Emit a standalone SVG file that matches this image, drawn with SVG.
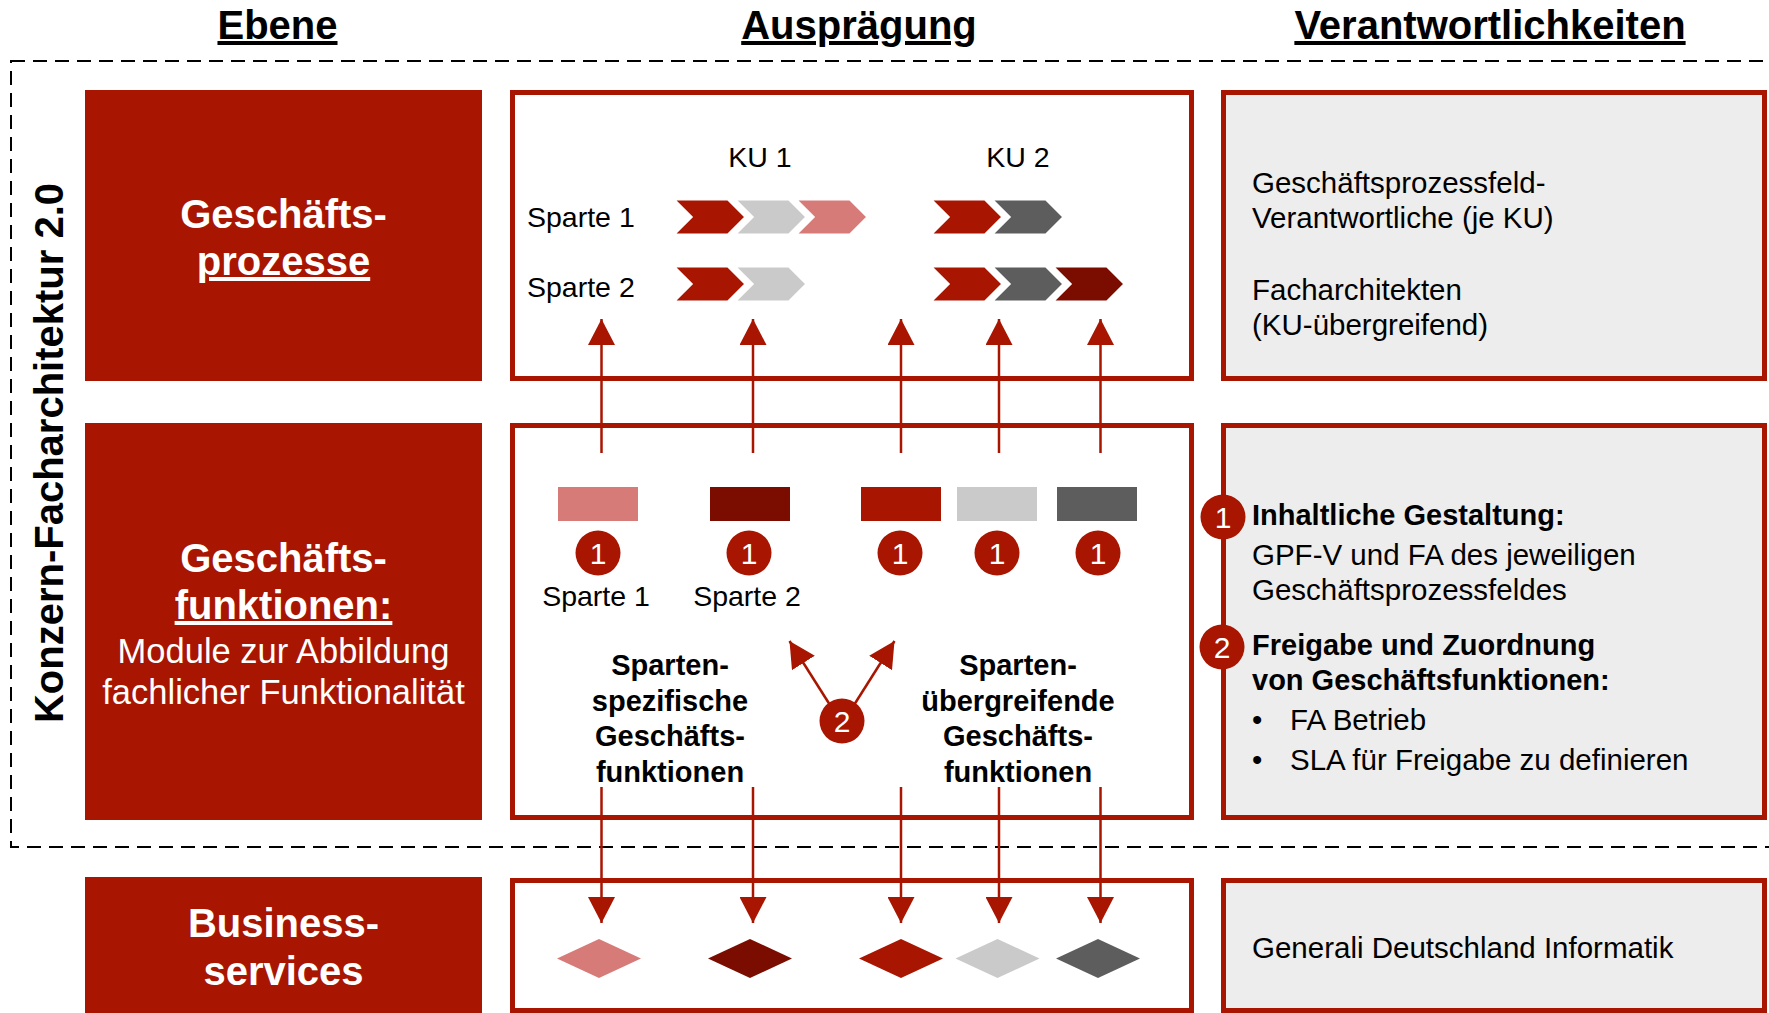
<svg xmlns="http://www.w3.org/2000/svg" width="1769" height="1013" viewBox="0 0 1769 1013">
<style>
text{font-family:"Liberation Sans",Arial,sans-serif}
.hdr{font-size:40px;font-weight:bold;fill:#000;text-anchor:middle;text-decoration:underline}
.lbox{fill:#A81500}
.mbox{fill:#fff;stroke:#A81500;stroke-width:5}
.rbox{fill:#EDEDED;stroke:#A81500;stroke-width:5}
.lt{font-size:40px;font-weight:bold;fill:#fff;text-anchor:middle}
.lts{font-size:34.5px;fill:#fff;text-anchor:middle}
.t{font-size:28.5px;fill:#000}
.tr{font-size:29.5px;fill:#000}
.tb{font-size:29px;font-weight:bold;fill:#000}
.c{text-anchor:middle}
.chev{stroke:#fff;stroke-width:3}
.red{fill:#A81500}.pink{fill:#D77B78}.dred{fill:#7A0D00}.lgr{fill:#CACACA}.dgr{fill:#5D5D5D}
.num{fill:#A81500}
.numt{font-size:30px;fill:#fff;text-anchor:middle}
.conn{stroke:#A81500;stroke-width:2.5;fill:none;marker-end:url(#ah)}
</style>
<defs>
<marker id="ah" viewBox="0 0 26 27" refX="26" refY="13.5" markerWidth="26" markerHeight="27" markerUnits="userSpaceOnUse" orient="auto">
<path d="M0,0 L26,13.5 L0,27 Z" fill="#A81500"/>
</marker>
</defs>

<g id="headers">
<text class="hdr" x="277.5" y="39">Ebene</text>
<text class="hdr" x="859" y="39">Ausprägung</text>
<text class="hdr" x="1490" y="39">Verantwortlichkeiten</text>
</g>

<g id="konzern-frame">
<rect x="11" y="61" width="1800" height="786" fill="none" stroke="#000" stroke-width="2" stroke-dasharray="14 8"/>
<text transform="translate(63,453) rotate(-90)" font-size="40" font-weight="bold" text-anchor="middle" fill="#000">Konzern-Facharchitektur 2.0</text>
</g>

<g id="ebene-geschaeftsprozesse">
<rect class="lbox" x="85" y="90" width="397" height="291"/>
<text class="lt" x="283.5" y="228">Geschäfts-</text>
<text class="lt" x="283.5" y="275" text-decoration="underline">prozesse</text>
</g>

<g id="ebene-geschaeftsfunktionen">
<rect class="lbox" x="85" y="423" width="397" height="397"/>
<text class="lt" x="283.5" y="572">Geschäfts-</text>
<text class="lt" x="283.5" y="619" text-decoration="underline">funktionen:</text>
<text class="lts" x="283.5" y="663">Module zur Abbildung</text>
<text class="lts" x="283.5" y="704">fachlicher Funktionalität</text>
</g>

<g id="ebene-businessservices">
<rect class="lbox" x="85" y="877" width="397" height="140"/>
<text class="lt" x="283.5" y="937">Business-</text>
<text class="lt" x="283.5" y="985">services</text>
</g>

<g id="auspraegung-prozesse">
<rect class="mbox" x="512.5" y="92.5" width="679" height="286"/>
<text class="t c" x="760" y="167">KU 1</text>
<text class="t c" x="1018" y="167">KU 2</text>
<text class="t" x="527" y="227">Sparte 1</text>
<text class="t" x="527" y="297">Sparte 2</text>
<polygon class="chev red" points="673,199 728,199 746,217 728,235 673,235 691,217"/>
<polygon class="chev lgr" points="734,199 789,199 807,217 789,235 734,235 752,217"/>
<polygon class="chev pink" points="795,199 850,199 868,217 850,235 795,235 813,217"/>
<polygon class="chev red" points="930,199 985,199 1003,217 985,235 930,235 948,217"/>
<polygon class="chev dgr" points="991,199 1046,199 1064,217 1046,235 991,235 1009,217"/>
<polygon class="chev red" points="673,266 728,266 746,284 728,302 673,302 691,284"/>
<polygon class="chev lgr" points="734,266 789,266 807,284 789,302 734,302 752,284"/>
<polygon class="chev red" points="930,266 985,266 1003,284 985,302 930,302 948,284"/>
<polygon class="chev dgr" points="991,266 1046,266 1064,284 1046,302 991,302 1009,284"/>
<polygon class="chev dred" points="1052,266 1107,266 1125,284 1107,302 1052,302 1070,284"/>
</g>

<g id="auspraegung-funktionen">
<rect class="mbox" x="512.5" y="425.5" width="679" height="392"/>
<rect class="pink" x="558" y="487" width="80" height="34"/>
<rect class="dred" x="710" y="487" width="80" height="34"/>
<rect class="red" x="861" y="487" width="80" height="34"/>
<rect class="lgr" x="957" y="487" width="80" height="34"/>
<rect class="dgr" x="1057" y="487" width="80" height="34"/>
<text class="t c" x="596" y="606">Sparte 1</text>
<text class="t c" x="747" y="606">Sparte 2</text>
<text class="tb c" x="670" y="675">Sparten-</text>
<text class="tb c" x="670" y="711">spezifische</text>
<text class="tb c" x="670" y="746">Geschäfts-</text>
<text class="tb c" x="670" y="782">funktionen</text>
<text class="tb c" x="1018" y="675">Sparten-</text>
<text class="tb c" x="1018" y="711">übergreifende</text>
<text class="tb c" x="1018" y="746">Geschäfts-</text>
<text class="tb c" x="1018" y="782">funktionen</text>
</g>

<g id="auspraegung-services">
<rect class="mbox" x="512.5" y="880.5" width="679" height="130"/>
<polygon class="pink" points="557,958.5 599,939 641,958.5 599,978"/>
<polygon class="dred" points="708,958.5 750,939 792,958.5 750,978"/>
<polygon class="red" points="859,958.5 901,939 943,958.5 901,978"/>
<polygon class="lgr" points="955.5,958.5 997.5,939 1039.5,958.5 997.5,978"/>
<polygon class="dgr" points="1056,958.5 1098,939 1140,958.5 1098,978"/>
</g>

<g id="verantwortung-prozesse">
<rect class="rbox" x="1223.5" y="92.5" width="541" height="286"/>
<text class="tr" x="1252" y="193">Geschäftsprozessfeld-</text>
<text class="tr" x="1252" y="228">Verantwortliche (je KU)</text>
<text class="tr" x="1252" y="300">Facharchitekten</text>
<text class="tr" x="1252" y="335">(KU-übergreifend)</text>
</g>

<g id="verantwortung-funktionen">
<rect class="rbox" x="1223.5" y="425.5" width="541" height="392"/>
<text class="tb" x="1252" y="525">Inhaltliche Gestaltung:</text>
<text class="tr" x="1252" y="565">GPF-V und FA des jeweiligen</text>
<text class="tr" x="1252" y="600">Geschäftsprozessfeldes</text>
<text class="tb" x="1252" y="655">Freigabe und Zuordnung</text>
<text class="tb" x="1252" y="690">von Geschäftsfunktionen:</text>
<text class="tr" x="1252" y="730">•</text>
<text class="tr" x="1290" y="730">FA Betrieb</text>
<text class="tr" x="1252" y="770">•</text>
<text class="tr" x="1290" y="770">SLA für Freigabe zu definieren</text>
</g>

<g id="verantwortung-services">
<rect class="rbox" x="1223.5" y="880.5" width="541" height="130"/>
<text class="tr" x="1252" y="958">Generali Deutschland Informatik</text>
</g>

<g id="connectors">
<line class="conn" x1="601.5" y1="453" x2="601.5" y2="319"/>
<line class="conn" x1="753" y1="453" x2="753" y2="319"/>
<line class="conn" x1="901" y1="453" x2="901" y2="319"/>
<line class="conn" x1="999" y1="453" x2="999" y2="319"/>
<line class="conn" x1="1100.5" y1="453" x2="1100.5" y2="319"/>
<line class="conn" x1="601.5" y1="787" x2="601.5" y2="923"/>
<line class="conn" x1="753" y1="787" x2="753" y2="923"/>
<line class="conn" x1="901" y1="787" x2="901" y2="923"/>
<line class="conn" x1="999" y1="787" x2="999" y2="923"/>
<line class="conn" x1="1100.5" y1="787" x2="1100.5" y2="923"/>
<line class="conn" x1="830" y1="705" x2="789.5" y2="641"/>
<line class="conn" x1="854" y1="705" x2="894.5" y2="641"/>
</g>

<g id="marker-1-sparte1"><circle class="num" cx="598" cy="553" r="22.5"/><text class="numt" x="598" y="564">1</text></g>
<g id="marker-1-sparte2"><circle class="num" cx="749" cy="553" r="22.5"/><text class="numt" x="749" y="564">1</text></g>
<g id="marker-1-a"><circle class="num" cx="900" cy="553" r="22.5"/><text class="numt" x="900" y="564">1</text></g>
<g id="marker-1-b"><circle class="num" cx="997" cy="553" r="22.5"/><text class="numt" x="997" y="564">1</text></g>
<g id="marker-1-c"><circle class="num" cx="1098" cy="553" r="22.5"/><text class="numt" x="1098" y="564">1</text></g>
<g id="marker-2"><circle class="num" cx="842" cy="721" r="22.5"/><text class="numt" x="842" y="732">2</text></g>
<g id="marker-legend-1"><circle class="num" cx="1223" cy="517" r="22.5"/><text class="numt" x="1223" y="528">1</text></g>
<g id="marker-legend-2"><circle class="num" cx="1222" cy="647" r="22.5"/><text class="numt" x="1222" y="658">2</text></g>
</svg>
